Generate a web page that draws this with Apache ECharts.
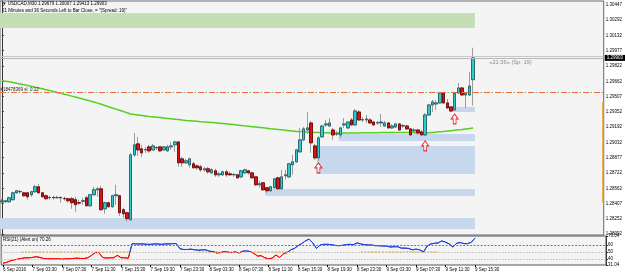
<!DOCTYPE html>
<html><head><meta charset="utf-8">
<script src="https://cdn.jsdelivr.net/npm/echarts@6/dist/echarts.min.js"></script>
<style>html,body{margin:0;padding:0;background:#fff}#c{width:625px;height:275px}</style>
</head><body><div id="c"></div>
<script>
const slotCount = 164;
const categories = Array.from({length: slotCount}, (_, i) => String(i));
const xTickLabels = ['6 Sep 2016','7 Sep 03:30','7 Sep 07:30','7 Sep 11:30','7 Sep 15:30','7 Sep 19:30','7 Sep 23:30','8 Sep 03:30','8 Sep 07:30','8 Sep 11:30','8 Sep 15:30','8 Sep 19:30','8 Sep 23:30','9 Sep 03:30','9 Sep 07:30','9 Sep 11:30','9 Sep 15:30'];
const yTicks = [1.28092,1.28252,1.28407,1.28562,1.28722,1.28877,1.29032,1.29192,1.29352,1.29507,1.29662,1.29822,1.29977,1.30132,1.30292,1.30447];
const rsiTicks = [31.04,40,50,60,73.04];
// [open, close, low, high]
const ohlc = [
[1.28424,1.28434,1.28404,1.28455],[1.28424,1.28434,1.28414,1.28445],[1.28424,1.28465,1.28414,1.28475],[1.28445,1.28516,1.28434,1.28527],
[1.28516,1.28537,1.28506,1.28547],[1.28527,1.28530,1.28506,1.28547],[1.28516,1.28486,1.28475,1.28527],[1.28516,1.28475,1.28445,1.28527],
[1.28496,1.28527,1.28475,1.28537],[1.28527,1.28578,1.28516,1.28598],[1.28578,1.28516,1.28506,1.28609],[1.28516,1.28475,1.28465,1.28527],
[1.28486,1.28455,1.28445,1.28496],[1.28465,1.28468,1.28445,1.28486],[1.28468,1.28465,1.28445,1.28486],[1.28465,1.28468,1.28455,1.28486],
[1.28468,1.28465,1.28414,1.28475],[1.28458,1.28455,1.28434,1.28475],[1.28455,1.28434,1.28414,1.28465],[1.28455,1.28414,1.28352,1.28475],
[1.28445,1.28393,1.28322,1.28475],[1.28414,1.28410,1.28393,1.28445],[1.28430,1.28434,1.28393,1.28465],[1.28465,1.28383,1.28373,1.28486],
[1.28383,1.28496,1.28373,1.28506],[1.28496,1.28547,1.28486,1.28578],[1.28547,1.28557,1.28475,1.28578],[1.28557,1.28342,1.28332,1.28588],
[1.28352,1.28414,1.28301,1.28424],[1.28414,1.28373,1.28363,1.28424],[1.28373,1.28486,1.28363,1.28496],[1.28486,1.28496,1.28393,1.28598],
[1.28486,1.28311,1.28280,1.28496],[1.28342,1.28301,1.28260,1.28363],[1.28311,1.28250,1.28219,1.28322],[1.28239,1.28906,1.28229,1.28927],
[1.28906,1.29009,1.28886,1.29131],[1.29019,1.28957,1.28896,1.29091],[1.28968,1.28927,1.28886,1.29009],[1.28957,1.28960,1.28927,1.28988],
[1.28988,1.28947,1.28927,1.29009],[1.28957,1.28998,1.28947,1.29019],[1.28978,1.28981,1.28957,1.28998],[1.28988,1.28947,1.28937,1.28998],
[1.28957,1.28988,1.28947,1.28998],[1.28947,1.28988,1.28937,1.29009],[1.28988,1.28998,1.28957,1.29039],[1.29009,1.29039,1.28937,1.29050],
[1.29039,1.28824,1.28783,1.29050],[1.28865,1.28824,1.28783,1.28886],[1.28824,1.28845,1.28814,1.28865],[1.28804,1.28865,1.28773,1.28875],
[1.28814,1.28773,1.28763,1.28834],[1.28793,1.28773,1.28752,1.28804],[1.28783,1.28752,1.28732,1.28804],[1.28752,1.28763,1.28732,1.28783],
[1.28763,1.28732,1.28711,1.28783],[1.28721,1.28752,1.28711,1.28773],[1.28742,1.28701,1.28680,1.28763],[1.28701,1.28711,1.28680,1.28732],
[1.28701,1.28732,1.28691,1.28742],[1.28732,1.28701,1.28680,1.28752],[1.28711,1.28701,1.28691,1.28732],[1.28701,1.28704,1.28680,1.28721],
[1.28701,1.28670,1.28660,1.28711],[1.28680,1.28742,1.28670,1.28752],[1.28721,1.28752,1.28711,1.28763],[1.28742,1.28721,1.28701,1.28752],
[1.28721,1.28670,1.28660,1.28732],[1.28680,1.28598,1.28588,1.28691],[1.28598,1.28609,1.28568,1.28639],[1.28619,1.28547,1.28537,1.28629],
[1.28568,1.28537,1.28516,1.28578],[1.28537,1.28578,1.28527,1.28588],[1.28568,1.28660,1.28557,1.28670],[1.28670,1.28557,1.28547,1.28680],
[1.28557,1.28680,1.28547,1.28752],[1.28691,1.28701,1.28650,1.28752],[1.28680,1.28814,1.28670,1.28824],[1.28804,1.28834,1.28701,1.28906],
[1.28834,1.28957,1.28824,1.28968],[1.28937,1.29060,1.28927,1.29183],[1.29060,1.29173,1.29050,1.29193],[1.29162,1.29183,1.29121,1.29347],
[1.29234,1.29029,1.28927,1.29255],[1.28998,1.28875,1.28855,1.29019],[1.28875,1.29080,1.28845,1.29101],[1.29091,1.29203,1.29080,1.29214],
[1.29214,1.29224,1.29193,1.29265],[1.29203,1.29234,1.29193,1.29285],[1.29162,1.29111,1.29060,1.29183],[1.29121,1.29124,1.29101,1.29152],
[1.29111,1.29183,1.29080,1.29193],[1.29214,1.29224,1.29183,1.29285],[1.29183,1.29244,1.29173,1.29255],[1.29265,1.29214,1.29203,1.29285],
[1.29214,1.29357,1.29203,1.29378],[1.29347,1.29265,1.29255,1.29368],[1.29265,1.29268,1.29244,1.29296],[1.29265,1.29275,1.29234,1.29316],
[1.29265,1.29234,1.29224,1.29285],[1.29244,1.29214,1.29203,1.29255],[1.29234,1.29237,1.29214,1.29255],[1.29234,1.29244,1.29193,1.29326],
[1.29203,1.29234,1.29193,1.29255],[1.29234,1.29183,1.29173,1.29244],[1.29183,1.29203,1.29173,1.29224],[1.29193,1.29224,1.29183,1.29234],
[1.29224,1.29162,1.29152,1.29234],[1.29203,1.29206,1.29183,1.29224],[1.29203,1.29173,1.29162,1.29214],[1.29173,1.29111,1.29101,1.29183],
[1.29152,1.29162,1.29131,1.29183],[1.29162,1.29131,1.29111,1.29173],[1.29142,1.29111,1.29101,1.29162],[1.29111,1.29316,1.29101,1.29337],
[1.29316,1.29419,1.29306,1.29429],[1.29419,1.29450,1.29347,1.29470],[1.29429,1.29440,1.29368,1.29470],[1.29440,1.29542,1.29429,1.29553],
[1.29542,1.29440,1.29429,1.29553],[1.29440,1.29388,1.29378,1.29481],[1.29399,1.29357,1.29347,1.29409],[1.29368,1.29542,1.29357,1.29553],
[1.29542,1.29594,1.29532,1.29645],[1.29594,1.29522,1.29511,1.29604],[1.29522,1.29542,1.29388,1.29553],[1.29522,1.29614,1.29511,1.29758],
[1.29679,1.29903,1.29413,1.30007]
];
const maValues = [
1.29671,1.29664,1.29657,1.29650,1.29642,1.29635,1.29627,1.29619,1.29611,1.29602,1.29594,
1.29585,1.29576,1.29567,1.29557,1.29548,1.29539,1.29529,1.29520,1.29510,1.29501,
1.29491,1.29481,1.29471,1.29460,1.29450,1.29438,1.29426,1.29413,1.29400,1.29388,
1.29376,1.29364,1.29351,1.29339,1.29327,1.29321,1.29316,1.29311,1.29306,1.29301,
1.29297,1.29293,1.29289,1.29285,1.29281,1.29277,1.29273,1.29269,1.29264,1.29260,
1.29257,1.29254,1.29251,1.29247,1.29244,1.29241,1.29238,1.29235,1.29232,1.29229,
1.29225,1.29221,1.29217,1.29212,1.29208,1.29204,1.29200,1.29196,1.29192,1.29188,
1.29184,1.29180,1.29175,1.29171,1.29167,1.29163,1.29159,1.29155,1.29151,1.29147,
1.29145,1.29143,1.29140,1.29138,1.29136,1.29135,1.29134,1.29133,1.29132,1.29131,
1.29131,1.29131,1.29131,1.29131,1.29131,1.29132,1.29132,1.29133,1.29133,1.29133,
1.29134,1.29134,1.29135,1.29135,1.29136,1.29136,1.29136,1.29136,1.29136,1.29136,
1.29135,1.29134,1.29133,1.29132,1.29131,1.29134,1.29137,1.29140,1.29144,1.29147,
1.29151,1.29155,1.29159,1.29163,1.29167,1.29172,1.29177,1.29183
];
const rsiValues = [
33.6,35,37,38.5,39.5,40.5,41.5,41.5,42,43,42,40.5,40,40,40,40,39.5,40,40,40.5,41,40.5,40.5,41.5,45,49,49,42,41,41.5,41.5,45,41.5,41.5,41,
62,61.5,61.5,61.5,61,61,61.5,61.5,61,61.5,61.5,62,62,
54.5,53.5,53.5,54,53,52.5,53,53,51,50.5,48.5,49,50.5,49.5,49,50,48.5,51,51.5,50.5,48,44,44.5,41.5,40,41,45.5,42,47,49,
53,55,59,62,66,68.5,63,55,60,61,61,60.5,59.5,59,59.5,60.5,61,60.5,63,61.5,60.5,60,60,59,59,58.5,58.5,57,57.5,57.5,55.5,55.5,55,53,54,53,50,
58.5,61.5,62.5,63,66,64,61.5,57,62.5,63.5,62,62,64,70.26
];
const rsiSplitLevel = 50;
const rsiMarkRanges = [[5,34],[53,62],[68,79],[97,118]];
const supplyZones = [[-0.5,128.5,1.30211,1.30365]];
const demandZones = [[-0.5,128.5,1.28144,1.28257],[71.5,128.5,1.28484,1.28556],[85.5,128.5,1.28710,1.28998],[91.5,128.5,1.29049,1.29121],[121.5,128.5,1.29347,1.29398]];
const arrowIdx = [86,115,123];
const arrowPrice = [1.28773,1.28998,1.29275];
const bidPrice = 1.29903, askPrice = 1.29922, slPrice = 1.29545;
const rangeBar = [1.29453,1.28414];
const rsiLevels = [60,50,40];

const FONT = 'Liberation Sans';
const RSI_UP = '#1f3fdc', RSI_DN = '#ff0000';
const chart = echarts.init(document.getElementById('c'), null, {renderer:'canvas'});
const last = ohlc[ohlc.length-1];
const bodies = ohlc.map(d => [d[0], d[1], Math.min(d[0],d[1]), Math.max(d[0],d[1])]);
const rsiMarks = categories.map((_, i) => rsiMarkRanges.some(r => i >= r[0] && i <= r[1]) ? 50 : null);
const zoneArea = (z, color) => [{xAxis:z[0], yAxis:z[3], itemStyle:{color}}, {xAxis:z[1], yAxis:z[2]}];
const tickShow = (i) => i % 8 === 0 && i/8 < xTickLabels.length;

chart.setOption({
  animation:false,
  textStyle:{fontFamily:FONT},
  grid:[
    {left:0, right:19, top:1, height:234, show:true, backgroundColor:'#f4f4f4', borderColor:'#666', borderWidth:1},
    {left:0, right:19, top:236, height:29, show:true, backgroundColor:'#f4f4f4', borderColor:'#555', borderWidth:1}
  ],
  xAxis:[
    {type:'category', gridIndex:0, data:categories, boundaryGap:true, axisLine:{show:false}, axisTick:{show:false}, axisLabel:{show:false}, splitLine:{show:false}},
    {type:'category', gridIndex:1, data:categories, boundaryGap:true, axisLine:{show:false},
      axisTick:{show:true, alignWithLabel:true, interval:tickShow, length:2, lineStyle:{color:'#000'}},
      axisLabel:{interval:tickShow, formatter:(v,i)=>xTickLabels[i/8], fontSize:4.5, color:'#000', align:'left', margin:2, hideOverlap:false}},
    {type:'value', gridIndex:0, min:-0.5, max:slotCount-0.5, show:false}
  ],
  yAxis:[
    {type:'value', gridIndex:0, position:'right', min:1.28082, max:1.30488, scale:true,
      axisLine:{show:true, lineStyle:{color:'#333'}}, splitLine:{show:false},
      axisTick:{show:true, customValues:yTicks, length:2, lineStyle:{color:'#333'}},
      axisLabel:{customValues:yTicks, formatter:v=>v.toFixed(5), fontSize:4.5, color:'#000', margin:2}},
    {type:'value', gridIndex:1, position:'right', min:31.04, max:73.04,
      axisLine:{show:true, lineStyle:{color:'#333'}}, splitLine:{show:false},
      axisTick:{show:true, customValues:rsiTicks, length:2, lineStyle:{color:'#333'}},
      axisLabel:{customValues:rsiTicks, formatter:v=>(Math.round(v)===v? String(v) : v.toFixed(2)), fontSize:4.5, color:'#000', margin:2}}
  ],
  series:[
    {type:'line', name:'zones', xAxisIndex:2, yAxisIndex:0, z:1, data:[[-0.5,1.29]], showSymbol:false, lineStyle:{opacity:0}, silent:true,
      markArea:{silent:true, data:[
        ...supplyZones.map(z=>zoneArea(z,'#c4dfb4')),
        ...demandZones.map(z=>zoneArea(z,'#c6d7ee'))
      ]},
      markLine:{silent:true, precision:5, symbol:['none','none'], data:[
        {yAxis:askPrice, lineStyle:{color:'#c8c8c8', width:1, type:'solid'}, label:{show:false}},
        {yAxis:bidPrice, lineStyle:{color:'#b8b8b8', width:1, type:'solid'},
          label:{show:true, position:'end', distance:1, formatter:bidPrice.toFixed(5), color:'#fff', backgroundColor:'#000', padding:[1,2,0,2], fontSize:4.5}},
        {yAxis:slPrice, lineStyle:{color:'#ee6a3a', width:1, type:[6,5]},
          label:{show:true, position:'insideStartTop', distance:0.5, formatter:'#18478369 sl  0.12', color:'#222', fontSize:4.5}},
        {yAxis:slPrice, lineStyle:{color:'#8aa070', width:1, type:[1.5,9.5], dashOffset:-7.5}, label:{show:false}},
        [{coord:[slotCount-0.75, rangeBar[0]], lineStyle:{color:'#e89a10', width:1.5, type:'solid'}, label:{show:false}},
         {coord:[slotCount-0.75, rangeBar[1]]}]
      ]},
      markPoint:{silent:true, data:[
        {coord:[132.4, 1.29855], symbol:'circle', symbolSize:0,
          label:{show:true, position:'right', distance:0, formatter:'«21:36» (Sp: 19)', color:'#8a8a8a', fontSize:5.7}}
      ]}
    },
    {type:'line', name:'MA', xAxisIndex:0, yAxisIndex:0, z:2, data:maValues, showSymbol:false, lineStyle:{color:'#55d020', width:1.5}, silent:true},
    {type:'candlestick', name:'wicks', xAxisIndex:0, yAxisIndex:0, z:3, data:ohlc, barWidth:3,
      itemStyle:{color:'rgba(0,0,0,0)', color0:'rgba(0,0,0,0)', borderColor:'#9c9c9c', borderColor0:'#9c9c9c', borderWidth:1}, silent:true},
    {type:'candlestick', name:'bodies', xAxisIndex:0, yAxisIndex:0, z:4, data:bodies, barWidth:3,
      itemStyle:{color:'#2fc9cf', color0:'#dd1111', borderColor:'#1d5a60', borderColor0:'#6a0000', borderWidth:0.8}, silent:true},
    {type:'scatter', name:'arrows', xAxisIndex:0, yAxisIndex:0, z:5, data:arrowIdx.map((x,i)=>[x, arrowPrice[i]]),
      symbol:'path://M5,0 L10,5 L7,5 L7,10 L3,10 L3,5 L0,5 Z', symbolSize:[7,10],
      itemStyle:{color:'#ffffff', borderColor:'#e00000', borderWidth:1}, silent:true},
    {type:'line', name:'marks', xAxisIndex:1, yAxisIndex:1, z:2, data:rsiMarks, showSymbol:false, connectNulls:false,
      lineStyle:{color:'#f0c020', width:1.5, type:[2,1.5]}, silent:true,
      markLine:{silent:true, precision:2, symbol:['none','none'], label:{show:false}, data:rsiLevels.map((v,i)=>({yAxis:v,
        lineStyle:{color: i===0 ? '#777' : '#bdbdbd', width:1, type: i===0 ? [2,1.5] : [1.5,1.5]}}))}
    },
    {type:'line', name:'RSI', xAxisIndex:1, yAxisIndex:1, z:3, data:rsiValues, showSymbol:false, lineStyle:{width:1, color:RSI_UP}, silent:true}
  ],
  graphic:[
    {type:'text', left:2, top:1.5, style:{text:'▼ USDCAD,M30 '+[last[0],last[3],last[2],last[1]].map(v=>v.toFixed(5)).join(' '), font:'4.5px '+FONT, fill:'#000'}},
    {type:'text', left:2, top:8.5, style:{text:'21 Minutes and 36 Seconds Left to Bar Close, = "(Spread: 19)"', font:'4.5px '+FONT, fill:'#000'}},
    {type:'text', left:3, top:237.5, style:{text:'RSI(21) (Alert on) '+rsiValues[rsiValues.length-1].toFixed(2), font:'4.5px '+FONT, fill:'#000'}}
  ]
});
// colour the RSI line blue above the split level and red below it, using the axis scale
const yTop = chart.convertToPixel({xAxisIndex:1, yAxisIndex:1}, [0, 73.04])[1];
const yBot = chart.convertToPixel({xAxisIndex:1, yAxisIndex:1}, [0, 31.04])[1];
const ySplit = chart.convertToPixel({xAxisIndex:1, yAxisIndex:1}, [0, rsiSplitLevel])[1];
const f = (ySplit - yTop) / (yBot - yTop);
chart.setOption({series:[{}, {}, {}, {}, {}, {}, {
  lineStyle:{color: new echarts.graphic.LinearGradient(0, yTop, 0, yBot, [
    {offset:0, color:RSI_UP}, {offset:f, color:RSI_UP}, {offset:f, color:RSI_DN}, {offset:1, color:RSI_DN}
  ], true)}
}]});
</script></body></html>
